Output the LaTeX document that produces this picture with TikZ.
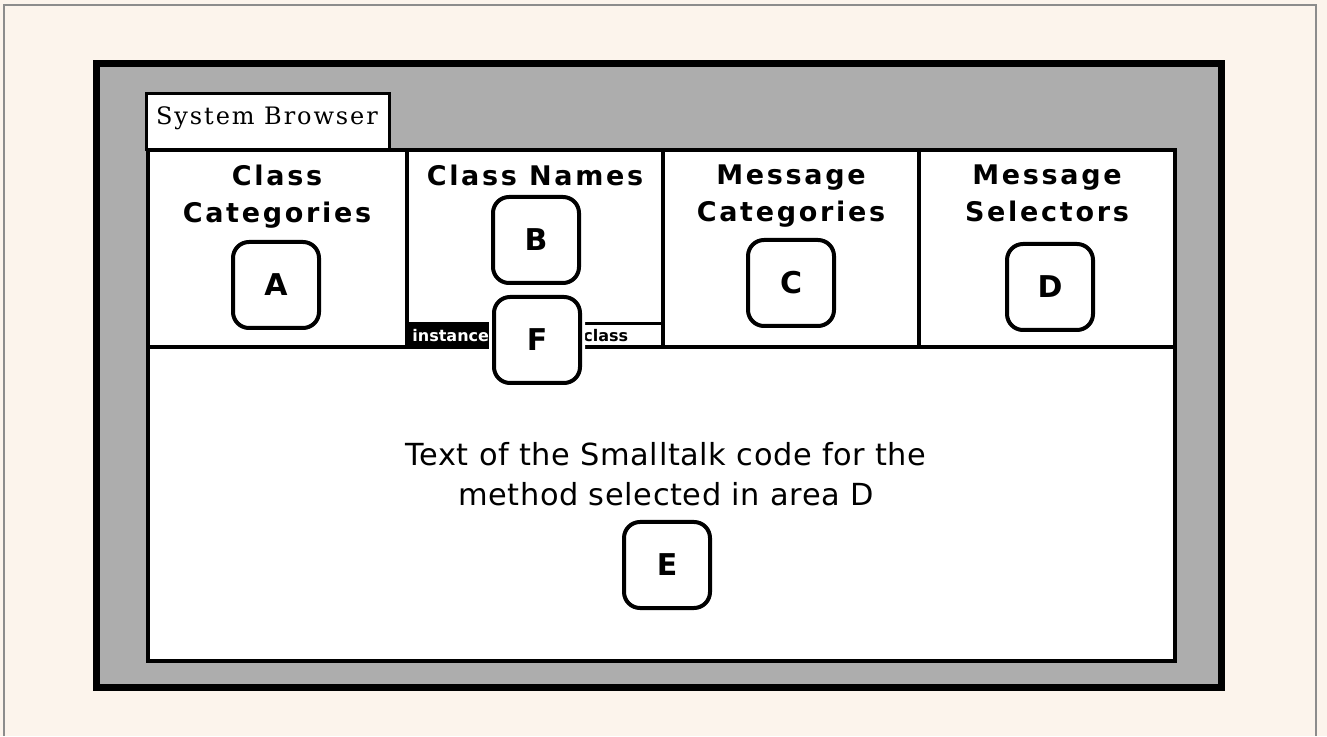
\documentclass[tikz,border=0pt]{standalone}
\usepackage{fontspec}
\usepackage{tikz}
\usetikzlibrary{positioning}
\definecolor{PagePeach}{HTML}{FCF4EC}
\definecolor{EdgeGray}{HTML}{8C8C8C}
\definecolor{DitherGray}{HTML}{ADADAD}
\newfontfamily\headfont[LetterSpace=10]{DejaVu Sans}
\newfontfamily\codefont[LetterSpace=2]{DejaVu Sans}
\newfontfamily\titlefont[LetterSpace=8]{DejaVu Serif}
\newfontfamily\tagfont{DejaVu Sans}

\begin{document}
\begin{tikzpicture}[x=0.5pt,y=-0.5pt,
  tagbox/.style={draw,line width=2pt,rounded corners=8pt,fill=white,
    minimum width=43pt,minimum height=43pt,inner sep=0pt,
    font=\tagfont\bfseries\fontsize{15}{18}\selectfont},
  heading/.style={anchor=north,align=center,inner sep=0pt,
    font=\headfont\bfseries\fontsize{13.5}{18.5}\selectfont},
  divider/.style={line width=2pt},
  switchtext/.style={anchor=west,inner sep=0pt,font=\tagfont\bfseries\fontsize{8}{10}\selectfont}]
  \def\areatag#1#2#3{
    \node[tagbox] (tag#1) at (#2,#3) {#1};
  }
  % page and window frame
  \fill[PagePeach] (0,0) rectangle (1327,736);
  \draw[EdgeGray,line width=0.6pt] (4,736) -- (4,5) -- (1316,5) -- (1316,736);
  \fill[black] (93,60) rectangle (1225,691);
  \fill[DitherGray] (100,67) rectangle (1218,684);
  \draw[line width=2pt,fill=white] (148,150) rectangle (1175,660.5);
  \draw[line width=1.5pt,fill=white] (146.5,93.5) rectangle (389,150);
  \node[anchor=base,inner sep=0pt,font=\titlefont\fontsize{12}{14}\selectfont] (title) at (267,125) {System Browser};
  % panes
  \draw[divider] (148,347) -- (1175,347);
  \draw[divider] (407,150) -- (407,347);
  \draw[divider] (663,150) -- (663,347);
  \draw[divider] (919,150) -- (919,347);
  % instance / class switch
  \draw[line width=1.5pt] (407,323.5) -- (663,323.5);
  \fill[black] (408,325) rectangle (535,346);
  \node[switchtext,text=white] (instance) at (412,335.5) {instance};
  \node[switchtext] (class) at (583,335.5) {class};
  % headings
  \node[heading] (headA) at (277,165) {Class\\Categories};
  \node[heading] (headB) at (535,165) {Class Names};
  \node[heading] (headC) at (791,164) {Message\\Categories};
  \node[heading] (headD) at (1047,164) {Message\\Selectors};
  \node[anchor=north,align=center,inner sep=0pt,font=\codefont\fontsize{15.2}{20}\selectfont]
    (code) at (666,442) {Text of the Smalltalk code for the\\method selected in area D};
  % area tags
  \areatag{A}{276}{285}
  \areatag{B}{536}{240}
  \areatag{C}{791}{283}
  \areatag{D}{1050}{287}
  \areatag{E}{667}{565}
  \node[tagbox,preaction={draw=white,line width=5pt}] (tagF) at (537,340) {F};
\end{tikzpicture}
\end{document}
